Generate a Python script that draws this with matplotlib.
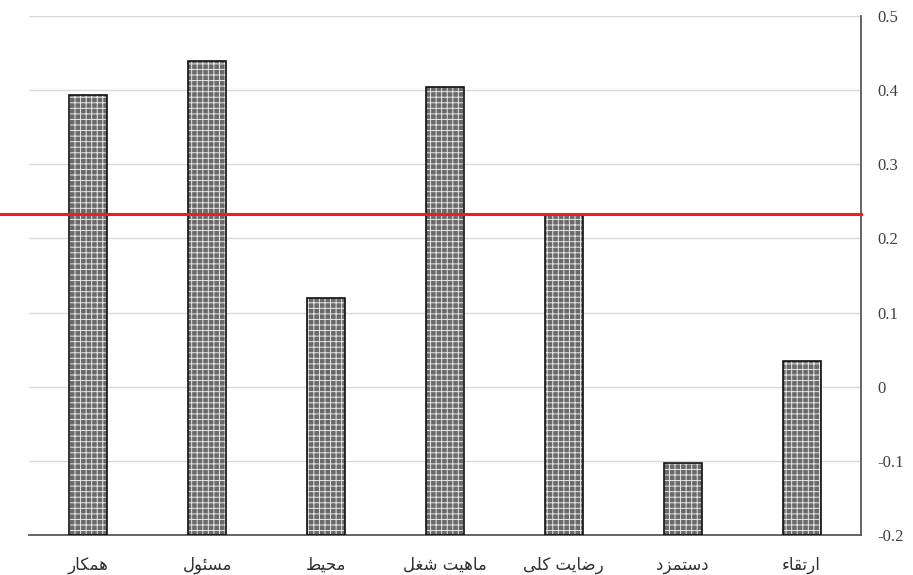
import numpy as np
import matplotlib
matplotlib.use("Agg")
import matplotlib.pyplot as plt

# data (left to right)
categories = ["همکار", "مسئول", "محیط", "ماهیت شغل", "رضایت کلی", "دستمزد", "ارتقاء"]
values = [0.393, 0.439, 0.119, 0.404, 0.233, -0.103, 0.035]
mean_line = 0.233
yticks = [-0.2, -0.1, 0, 0.1, 0.2, 0.3, 0.4, 0.5]
ytick_labels = ["-0.2", "-0.1", "0", "0.1", "0.2", "0.3", "0.4", "0.5"]

# matplotlib does no arabic shaping, so pick presentation forms by hand
# letter: (isolated, final, initial, medial); 2-tuple = joins only to the right
FORMS = {
    "ا": ("\uFE8D", "\uFE8E"),
    "ء": ("\uFE80",),
    "ئ": ("\uFE89", "\uFE8A", "\uFE8B", "\uFE8C"),
    "ت": ("\uFE95", "\uFE96", "\uFE97", "\uFE98"),
    "ح": ("\uFEA1", "\uFEA2", "\uFEA3", "\uFEA4"),
    "د": ("\uFEA9", "\uFEAA"),
    "ر": ("\uFEAD", "\uFEAE"),
    "ز": ("\uFEAF", "\uFEB0"),
    "س": ("\uFEB1", "\uFEB2", "\uFEB3", "\uFEB4"),
    "ش": ("\uFEB5", "\uFEB6", "\uFEB7", "\uFEB8"),
    "ض": ("\uFEBD", "\uFEBE", "\uFEBF", "\uFEC0"),
    "ط": ("\uFEC1", "\uFEC2", "\uFEC3", "\uFEC4"),
    "غ": ("\uFECD", "\uFECE", "\uFECF", "\uFED0"),
    "ق": ("\uFED5", "\uFED6", "\uFED7", "\uFED8"),
    "ل": ("\uFEDD", "\uFEDE", "\uFEDF", "\uFEE0"),
    "م": ("\uFEE1", "\uFEE2", "\uFEE3", "\uFEE4"),
    "ه": ("\uFEE9", "\uFEEA", "\uFEEB", "\uFEEC"),
    "و": ("\uFEED", "\uFEEE"),
    "ی": ("\uFBFC", "\uFBFD", "\uFBFE", "\uFBFF"),
    "ک": ("\uFB8E", "\uFB8F", "\uFB90", "\uFB91"),
}


def shape(text):
    out = []
    for i, ch in enumerate(text):
        f = FORMS.get(ch)
        if f is None:
            out.append(ch)
            continue
        prev = text[i - 1] if i > 0 else None
        nxt = text[i + 1] if i + 1 < len(text) else None
        join_prev = prev in FORMS and len(FORMS[prev]) == 4 and len(f) > 1
        join_next = len(f) == 4 and nxt in FORMS and len(FORMS[nxt]) > 1
        if join_prev and join_next:
            out.append(f[3])
        elif join_prev:
            out.append(f[1])
        elif join_next:
            out.append(f[2])
        else:
            out.append(f[0])
    return "".join(out)[::-1]   # visual order for right-to-left


fig = plt.figure(figsize=(9.13, 5.75), dpi=100)
ax = fig.add_axes([29 / 913, 1 - 535 / 575, (861 - 29) / 913, (535 - 16) / 575])

x = np.arange(len(categories))
base = yticks[0]
heights = [v - base for v in values]

plt.rcParams["hatch.linewidth"] = 0.7
# gray fill with light dot hatch, then black outline on top
ax.bar(x, heights, bottom=base, width=0.32, color="#6a6a6a", edgecolor="#e6e6e6",
       hatch="+++", linewidth=0, zorder=2)
ax.bar(x, heights, bottom=base, width=0.32, color="none", edgecolor="#111111",
       linewidth=1.2, zorder=3)

ax.axhline(mean_line, xmin=-29 / 832, xmax=1.0, color="#e8202a", linewidth=2.2,
           clip_on=False, zorder=4)

ax.set_xlim(-0.5, len(categories) - 0.5)
ax.set_ylim(yticks[0], yticks[-1])
ax.yaxis.tick_right()
ax.set_yticks(yticks)
ax.set_yticklabels(ytick_labels, family="Liberation Serif", fontsize=12, color="#404040")
ax.tick_params(axis="y", length=0, pad=12)
ax.grid(axis="y", color="#d9d9d9", linewidth=1, zorder=0)
ax.set_axisbelow(True)

ax.set_xticks(x)
ax.set_xticklabels([shape(c) for c in categories], family="DejaVu Sans",
                   fontsize=12, color="#303030")
ax.tick_params(axis="x", length=0, pad=15)

for s in ["top", "left"]:
    ax.spines[s].set_visible(False)
for s in ["right", "bottom"]:
    ax.spines[s].set_color("#595959")
    ax.spines[s].set_linewidth(1.3)

fig.savefig("out.png", dpi=100)
